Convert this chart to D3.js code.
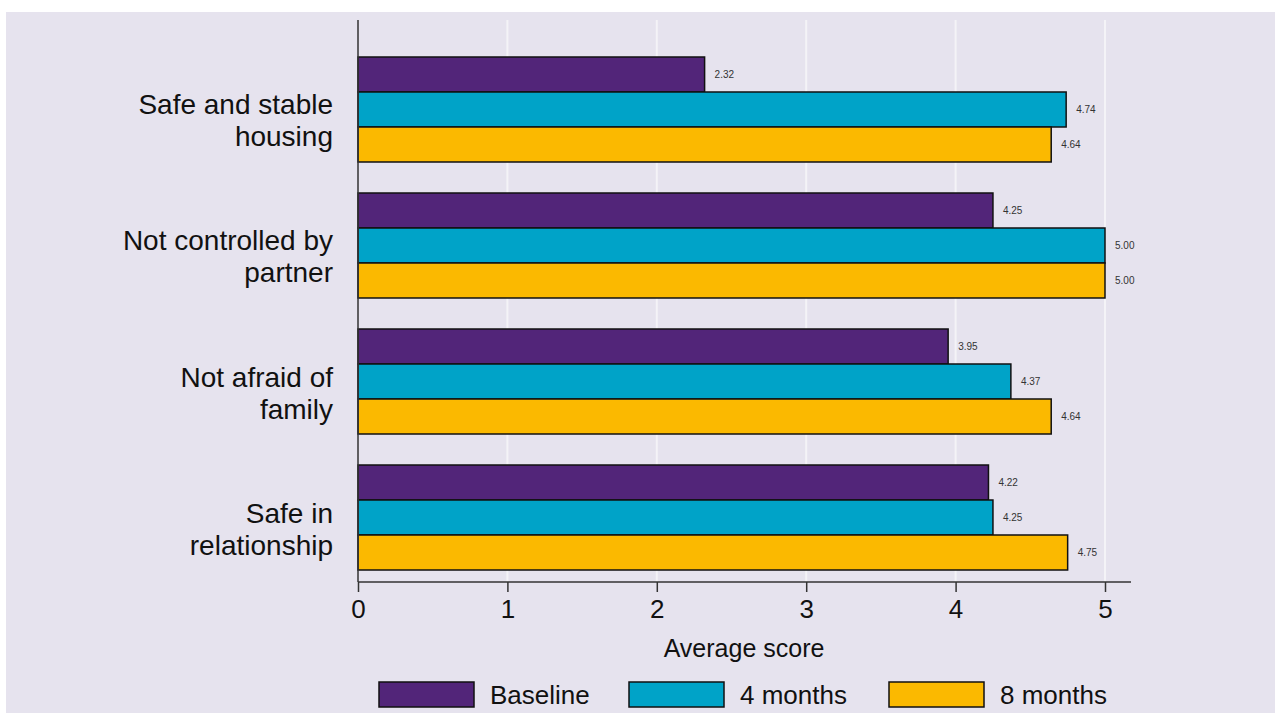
<!DOCTYPE html>
<html><head><meta charset="utf-8">
<script src="https://cdn.jsdelivr.net/npm/d3@7"></script>
<style>
html,body{margin:0;padding:0;background:#fff;}
svg{display:block;font-family:"Liberation Sans",Arial,sans-serif;}
</style></head>
<body>
<svg id="chart" width="1275" height="713"></svg>
<script>
const categories = [["Safe and stable","housing"],["Not controlled by","partner"],["Not afraid of","family"],["Safe in","relationship"]];
const categoryKeys = ["housing","partner","family","relationship"];
const seriesNames = ["Baseline","4 months","8 months"];
const baseline = [2.32, 4.25, 3.95, 4.22];
const months4 = [4.74, 5.00, 4.37, 4.25];
const months8 = [4.64, 5.00, 4.64, 4.75];
const xTicks = [0,1,2,3,4,5];
const colors = ["#522579","#00A3C8","#FBB900"];

const svg = d3.select("#chart");
svg.append("rect").attr("x",6).attr("y",12).attr("width",1269).attr("height",701).attr("fill","#E6E3EE");

const x = d3.scaleLinear().domain([0,5]).range([358,1105]);
const y = d3.scaleBand().domain(categoryKeys).range([57,570]).paddingInner(0.228).paddingOuter(0);
const ys = d3.scaleBand().domain(seriesNames).range([0,y.bandwidth()]).padding(0);
const seriesVals = [baseline, months4, months8];

// gridlines
svg.append("g").selectAll("line").data(xTicks.slice(1)).join("line")
  .attr("x1",d=>x(d)).attr("x2",d=>x(d)).attr("y1",20).attr("y2",582)
  .attr("stroke","#F4F3F7").attr("stroke-width",2);

// bars
const g = svg.append("g");
categoryKeys.forEach((c,i)=>{
  seriesNames.forEach((s,j)=>{
    const v = seriesVals[j][i];
    g.append("rect").attr("x",x(0)).attr("y",y(c)+ys(s))
      .attr("width",x(v)-x(0)).attr("height",ys.bandwidth())
      .attr("fill",colors[j]).attr("stroke","#111").attr("stroke-width",1.5);
    g.append("text").attr("x",x(v)+10).attr("y",y(c)+ys(s)+ys.bandwidth()/2)
      .attr("dy","0.35em").attr("font-size",10).attr("fill","#333").text(v.toFixed(2));
  });
});

// y axis line
svg.append("line").attr("x1",358).attr("x2",358).attr("y1",20).attr("y2",582).attr("stroke","#333").attr("stroke-width",1.5);

// category labels
categoryKeys.forEach((c,i)=>{
  const cy = y(c)+y.bandwidth()/2;
  const t = svg.append("text").attr("x",333).attr("text-anchor","end").attr("font-size",28).attr("fill","#111");
  t.append("tspan").attr("x",333).attr("y",cy+5).text(categories[i][0]);
  t.append("tspan").attr("x",333).attr("y",cy+37).text(categories[i][1]);
});

// x axis
const xAxis = d3.axisBottom(x).tickValues(xTicks).tickSize(10).tickPadding(8).tickFormat(d3.format("d"));
const ax = svg.append("g").attr("transform","translate(0,582)").call(xAxis);
ax.select(".domain").remove();
ax.append("line").attr("x1",358).attr("x2",1131).attr("y1",0).attr("y2",0).attr("stroke","#333").attr("stroke-width",1.5);
ax.selectAll(".tick line").attr("stroke","#333").attr("stroke-width",1.5);
ax.selectAll(".tick text").attr("font-size",26).attr("fill","#111").attr("font-family","'Liberation Sans',Arial,sans-serif");

svg.append("text").attr("x",744).attr("y",657).attr("text-anchor","middle").attr("font-size",25).attr("fill","#111").text("Average score");

// legend
const legX = [379,629,889];
seriesNames.forEach((s,j)=>{
  svg.append("rect").attr("x",legX[j]).attr("y",682).attr("width",95).attr("height",25)
    .attr("fill",colors[j]).attr("stroke","#111").attr("stroke-width",1.5);
  svg.append("text").attr("x",legX[j]+111).attr("y",704).attr("font-size",26).attr("fill","#111").text(s);
});
</script>
</body></html>
